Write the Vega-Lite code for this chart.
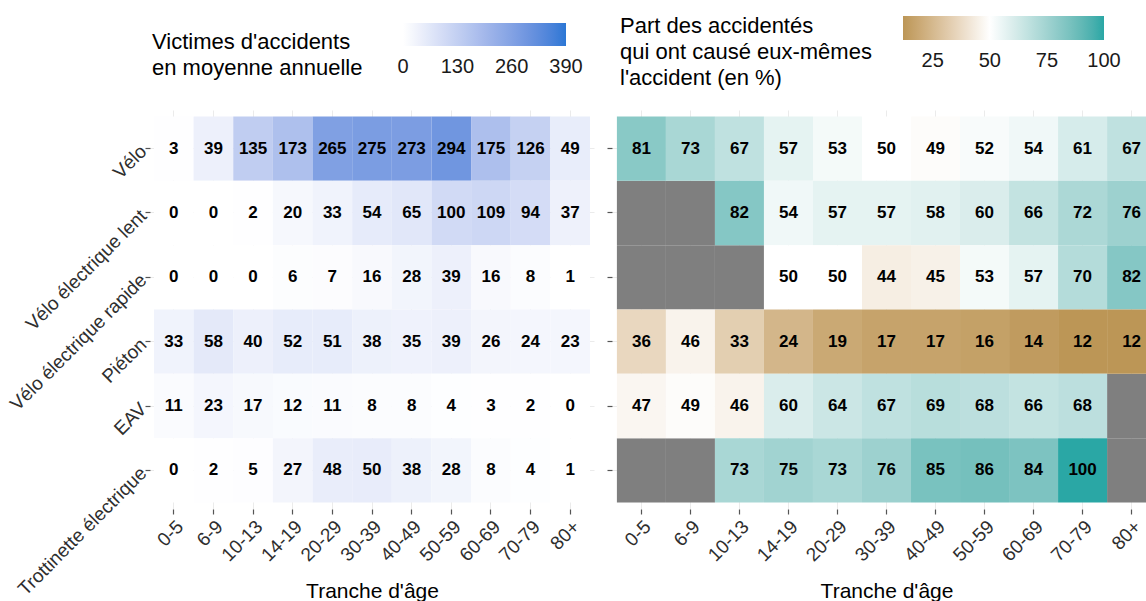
{
  "$schema": "https://vega.github.io/schema/vega-lite/v6.json",
  "background": "white",
  "padding": {"left": 6, "top": 16, "right": 0, "bottom": 0},
  "datasets": {
    "d": [
      {"type": "Vélo", "age": "0-5", "victimes": 3, "pct": 81},
      {"type": "Vélo", "age": "6-9", "victimes": 39, "pct": 73},
      {"type": "Vélo", "age": "10-13", "victimes": 135, "pct": 67},
      {"type": "Vélo", "age": "14-19", "victimes": 173, "pct": 57},
      {"type": "Vélo", "age": "20-29", "victimes": 265, "pct": 53},
      {"type": "Vélo", "age": "30-39", "victimes": 275, "pct": 50},
      {"type": "Vélo", "age": "40-49", "victimes": 273, "pct": 49},
      {"type": "Vélo", "age": "50-59", "victimes": 294, "pct": 52},
      {"type": "Vélo", "age": "60-69", "victimes": 175, "pct": 54},
      {"type": "Vélo", "age": "70-79", "victimes": 126, "pct": 61},
      {"type": "Vélo", "age": "80+", "victimes": 49, "pct": 67},
      {"type": "Vélo électrique lent", "age": "0-5", "victimes": 0, "pct": null},
      {"type": "Vélo électrique lent", "age": "6-9", "victimes": 0, "pct": null},
      {"type": "Vélo électrique lent", "age": "10-13", "victimes": 2, "pct": 82},
      {"type": "Vélo électrique lent", "age": "14-19", "victimes": 20, "pct": 54},
      {"type": "Vélo électrique lent", "age": "20-29", "victimes": 33, "pct": 57},
      {"type": "Vélo électrique lent", "age": "30-39", "victimes": 54, "pct": 57},
      {"type": "Vélo électrique lent", "age": "40-49", "victimes": 65, "pct": 58},
      {"type": "Vélo électrique lent", "age": "50-59", "victimes": 100, "pct": 60},
      {"type": "Vélo électrique lent", "age": "60-69", "victimes": 109, "pct": 66},
      {"type": "Vélo électrique lent", "age": "70-79", "victimes": 94, "pct": 72},
      {"type": "Vélo électrique lent", "age": "80+", "victimes": 37, "pct": 76},
      {"type": "Vélo électrique rapide", "age": "0-5", "victimes": 0, "pct": null},
      {"type": "Vélo électrique rapide", "age": "6-9", "victimes": 0, "pct": null},
      {"type": "Vélo électrique rapide", "age": "10-13", "victimes": 0, "pct": null},
      {"type": "Vélo électrique rapide", "age": "14-19", "victimes": 6, "pct": 50},
      {"type": "Vélo électrique rapide", "age": "20-29", "victimes": 7, "pct": 50},
      {"type": "Vélo électrique rapide", "age": "30-39", "victimes": 16, "pct": 44},
      {"type": "Vélo électrique rapide", "age": "40-49", "victimes": 28, "pct": 45},
      {"type": "Vélo électrique rapide", "age": "50-59", "victimes": 39, "pct": 53},
      {"type": "Vélo électrique rapide", "age": "60-69", "victimes": 16, "pct": 57},
      {"type": "Vélo électrique rapide", "age": "70-79", "victimes": 8, "pct": 70},
      {"type": "Vélo électrique rapide", "age": "80+", "victimes": 1, "pct": 82},
      {"type": "Piéton", "age": "0-5", "victimes": 33, "pct": 36},
      {"type": "Piéton", "age": "6-9", "victimes": 58, "pct": 46},
      {"type": "Piéton", "age": "10-13", "victimes": 40, "pct": 33},
      {"type": "Piéton", "age": "14-19", "victimes": 52, "pct": 24},
      {"type": "Piéton", "age": "20-29", "victimes": 51, "pct": 19},
      {"type": "Piéton", "age": "30-39", "victimes": 38, "pct": 17},
      {"type": "Piéton", "age": "40-49", "victimes": 35, "pct": 17},
      {"type": "Piéton", "age": "50-59", "victimes": 39, "pct": 16},
      {"type": "Piéton", "age": "60-69", "victimes": 26, "pct": 14},
      {"type": "Piéton", "age": "70-79", "victimes": 24, "pct": 12},
      {"type": "Piéton", "age": "80+", "victimes": 23, "pct": 12},
      {"type": "EAV", "age": "0-5", "victimes": 11, "pct": 47},
      {"type": "EAV", "age": "6-9", "victimes": 23, "pct": 49},
      {"type": "EAV", "age": "10-13", "victimes": 17, "pct": 46},
      {"type": "EAV", "age": "14-19", "victimes": 12, "pct": 60},
      {"type": "EAV", "age": "20-29", "victimes": 11, "pct": 64},
      {"type": "EAV", "age": "30-39", "victimes": 8, "pct": 67},
      {"type": "EAV", "age": "40-49", "victimes": 8, "pct": 69},
      {"type": "EAV", "age": "50-59", "victimes": 4, "pct": 68},
      {"type": "EAV", "age": "60-69", "victimes": 3, "pct": 66},
      {"type": "EAV", "age": "70-79", "victimes": 2, "pct": 68},
      {"type": "EAV", "age": "80+", "victimes": 0, "pct": null},
      {"type": "Trottinette électrique", "age": "0-5", "victimes": 0, "pct": null},
      {"type": "Trottinette électrique", "age": "6-9", "victimes": 2, "pct": null},
      {"type": "Trottinette électrique", "age": "10-13", "victimes": 5, "pct": 73},
      {"type": "Trottinette électrique", "age": "14-19", "victimes": 27, "pct": 75},
      {"type": "Trottinette électrique", "age": "20-29", "victimes": 48, "pct": 73},
      {"type": "Trottinette électrique", "age": "30-39", "victimes": 50, "pct": 76},
      {"type": "Trottinette électrique", "age": "40-49", "victimes": 38, "pct": 85},
      {"type": "Trottinette électrique", "age": "50-59", "victimes": 28, "pct": 86},
      {"type": "Trottinette électrique", "age": "60-69", "victimes": 8, "pct": 84},
      {"type": "Trottinette électrique", "age": "70-79", "victimes": 4, "pct": 100},
      {"type": "Trottinette électrique", "age": "80+", "victimes": 1, "pct": null}
    ]
  },
  "data": {"name": "d"},
  "spacing": 12,
  "hconcat": [
    {
      "width": 444,
      "height": 399,
      "encoding": {
        "x": {
          "field": "age", "type": "ordinal",
          "sort": ["0-5", "6-9", "10-13", "14-19", "20-29", "30-39", "40-49", "50-59", "60-69", "70-79", "80+"],
          "scale": {"paddingInner": 0, "paddingOuter": 0.1},
          "axis": {"title": "Tranche d'âge", "labelAngle": -45, "labelAlign": "right", "labelBaseline": "top", "labelPadding": 3, "titlePadding": 16, "grid": true, "bandPosition": 0.5, "zindex": 0}
        },
        "y": {
          "field": "type", "type": "nominal",
          "sort": ["Vélo", "Vélo électrique lent", "Vélo électrique rapide", "Piéton", "EAV", "Trottinette électrique"],
          "scale": {"paddingInner": 0, "paddingOuter": 0.1},
          "axis": {"title": null, "labelAngle": -45, "labelAlign": "right", "labelBaseline": "middle", "labelPadding": 2, "labelLimit": 400, "grid": true, "bandPosition": 0.5, "zindex": 0}
        }
      },
      "layer": [
        {
          "mark": {"type": "rect"},
          "encoding": {
            "color": {
              "field": "victimes", "type": "quantitative",
              "scale": {"domain": [0, 390], "range": ["#ffffff", "#2b77d5"], "interpolate": "lab"},
              "legend": {
                "orient": "none", "legendX": 2, "legendY": -87, "direction": "horizontal",
                "title": ["", "Victimes d'accidents", "en moyenne annuelle"],
                "titleOrient": "left", "titleAnchor": "start", "titleBaseline": "alphabetic", "titlePadding": 40,
                "gradientLength": 163, "gradientThickness": 23,
                "values": [0, 130, 260, 390], "labelOverlap": false, "labelOffset": 11,
                "encode": {"labels": {"update": {"align": {"value": "center"}}}}
              }
            }
          }
        },
        {
          "mark": {"type": "text", "fontWeight": "bold", "fontSize": 17, "color": "black"},
          "encoding": {"text": {"field": "victimes", "type": "quantitative"}}
        }
      ]
    },
    {
      "width": 539,
      "height": 399,
      "encoding": {
        "x": {
          "field": "age", "type": "ordinal",
          "sort": ["0-5", "6-9", "10-13", "14-19", "20-29", "30-39", "40-49", "50-59", "60-69", "70-79", "80+"],
          "scale": {"paddingInner": 0, "paddingOuter": 0.1, "range": [0, 549]},
          "axis": {"title": "Tranche d'âge", "labelAngle": -45, "labelAlign": "right", "labelBaseline": "top", "labelPadding": 3, "titlePadding": 16, "grid": true, "bandPosition": 0.5, "zindex": 0}
        },
        "y": {
          "field": "type", "type": "nominal",
          "sort": ["Vélo", "Vélo électrique lent", "Vélo électrique rapide", "Piéton", "EAV", "Trottinette électrique"],
          "scale": {"paddingInner": 0, "paddingOuter": 0.1},
          "axis": {"title": null, "labels": false, "grid": true, "bandPosition": 0.5, "zindex": 0}
        }
      },
      "layer": [
        {
          "transform": [{"filter": "datum.pct == null"}],
          "mark": {"type": "rect", "color": "#7f7f7f", "clip": true},
          "encoding": {}
        },
        {
          "transform": [{"filter": "datum.pct != null"}],
          "mark": {"type": "rect", "clip": true},
          "encoding": {
            "color": {
              "field": "pct", "type": "quantitative",
              "scale": {"domain": [12, 50, 100], "range": ["#bc9656", "#ffffff", "#2aa7a5"], "interpolate": "lab"},
              "legend": {
                "orient": "none", "legendX": 8, "legendY": -94, "direction": "horizontal",
                "title": ["Part des accidentés", "qui ont causé eux-mêmes", "l'accident (en %)"],
                "titleOrient": "left", "titleAnchor": "start", "titlePadding": 31,
                "gradientLength": 201, "gradientThickness": 24,
                "values": [25, 50, 75, 100], "labelOverlap": false, "labelOffset": 11,
                "encode": {"labels": {"update": {"align": {"value": "center"}}}}
              }
            }
          }
        },
        {
          "transform": [{"filter": "datum.pct != null"}],
          "mark": {"type": "text", "fontWeight": "bold", "fontSize": 17, "color": "black"},
          "encoding": {"text": {"field": "pct", "type": "quantitative"}}
        }
      ]
    }
  ],
  "resolve": {
    "scale": {"color": "independent", "x": "independent", "y": "independent"},
    "legend": {"color": "independent"}
  },
  "config": {
    "font": "Liberation Sans",
    "view": {"stroke": null},
    "axis": {
      "domain": false, "gridColor": "#ebebeb", "gridWidth": 1,
      "tickColor": "#555555", "tickSize": 5, "tickWidth": 1.2,
      "labelFontSize": 19, "labelColor": "#2e2e2e",
      "titleFontSize": 21, "titleFontWeight": "normal", "titleColor": "black"
    },
    "legend": {
      "labelFontSize": 20, "labelColor": "#1a1a1a",
      "titleFontSize": 22, "titleFontWeight": "normal", "titleColor": "black",
      "titleLineHeight": 26, "titleLimit": 600,
      "gradientStrokeWidth": 0
    },
    "text": {"font": "Liberation Sans"}
  }
}
